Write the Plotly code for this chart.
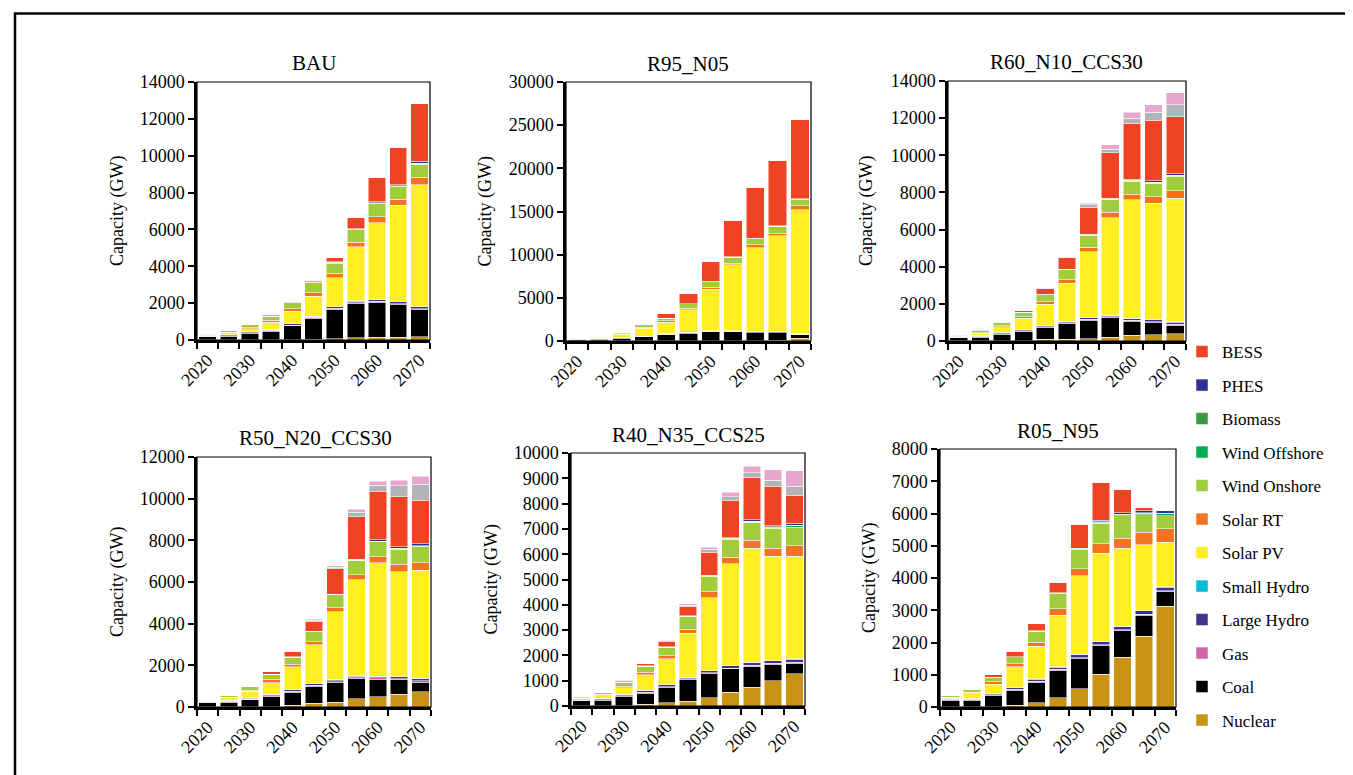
import plotly.graph_objects as go

# ---------------- data ----------------
years = [2020, 2025, 2030, 2035, 2040, 2045, 2050, 2055, 2060, 2065, 2070]
tick_years = [2020, 2030, 2040, 2050, 2060, 2070]

series_names = ["Nuclear", "Coal", "Gas", "Large Hydro", "Small Hydro", "Solar PV",
                "Solar RT", "Wind Onshore", "Wind Offshore", "Biomass", "PHES", "BESS",
                "Coal CCS", "Gas CCS"]
hidden_in_legend = ["Coal CCS", "Gas CCS"]

titles = ["BAU", "R95_N05", "R60_N10_CCS30", "R50_N20_CCS30", "R40_N35_CCS25", "R05_N95"]
y_title = "Capacity (GW)"
y_max = [14000, 30000, 14000, 12000, 10000, 8000]
y_step = [2000, 5000, 2000, 2000, 1000, 1000]

BAU = {
    "Nuclear":       [5, 5, 10, 15, 25, 40, 80, 120, 150, 160, 170],
    "Coal":          [180, 200, 350, 470, 740, 1140, 1600, 1870, 1910, 1775, 1490],
    "Gas":           [25, 30, 35, 40, 45, 45, 45, 45, 45, 45, 45],
    "Large Hydro":   [45, 50, 55, 60, 65, 70, 75, 80, 85, 90, 95],
    "Small Hydro":   [5, 5, 6, 6, 7, 7, 8, 8, 8, 9, 9],
    "Solar PV":      [35, 120, 160, 380, 680, 1085, 1575, 2940, 4167, 5227, 6618],
    "Solar RT":      [5, 15, 50, 110, 145, 180, 235, 253, 325, 325, 400],
    "Wind Onshore":  [40, 80, 160, 215, 310, 540, 560, 660, 730, 700, 720],
    "Wind Offshore": [0, 0, 0, 0, 5, 10, 15, 20, 25, 30, 40],
    "Biomass":       [10, 10, 10, 10, 10, 15, 15, 15, 15, 15, 15],
    "PHES":          [5, 5, 5, 10, 15, 20, 25, 30, 45, 60, 100],
    "BESS":          [0, 5, 10, 45, 55, 90, 235, 630, 1340, 2025, 3110],
    "Coal CCS":      [0, 0, 0, 0, 0, 0, 0, 0, 0, 0, 0],
    "Gas CCS":       [0, 0, 0, 0, 0, 0, 0, 0, 0, 0, 0],
}

R95_N05 = {
    "Nuclear":       [5, 5, 5, 5, 5, 5, 10, 20, 50, 100, 300],
    "Coal":          [180, 220, 330, 470, 750, 920, 1080, 1080, 900, 850, 460],
    "Gas":           [25, 25, 25, 25, 25, 25, 25, 25, 25, 25, 25],
    "Large Hydro":   [45, 50, 55, 60, 65, 70, 75, 80, 85, 90, 95],
    "Small Hydro":   [5, 5, 6, 6, 7, 7, 8, 8, 8, 9, 9],
    "Solar PV":      [40, 150, 350, 900, 1313, 2568, 4812, 7600, 9755, 11140, 14300],
    "Solar RT":      [5, 20, 60, 100, 155, 195, 195, 195, 310, 270, 500],
    "Wind Onshore":  [40, 90, 180, 200, 310, 500, 650, 700, 700, 770, 660],
    "Wind Offshore": [0, 0, 0, 0, 5, 10, 15, 15, 20, 25, 40],
    "Biomass":       [10, 10, 10, 10, 10, 15, 15, 15, 15, 15, 15],
    "PHES":          [5, 5, 5, 10, 15, 20, 20, 20, 45, 40, 65],
    "BESS":          [0, 10, 30, 150, 550, 1120, 2320, 4210, 5876, 7615, 9160],
    "Coal CCS":      [0, 0, 0, 0, 0, 0, 0, 0, 0, 0, 0],
    "Gas CCS":       [0, 0, 0, 0, 0, 0, 0, 0, 0, 0, 0],
}

R60_N10_CCS30 = {
    "Nuclear":       [5, 5, 10, 20, 90, 90, 130, 215, 300, 340, 395],
    "Coal":          [180, 210, 360, 480, 620, 850, 1000, 1030, 770, 650, 415],
    "Gas":           [25, 30, 30, 40, 45, 50, 50, 55, 55, 60, 90],
    "Large Hydro":   [45, 50, 55, 60, 65, 70, 75, 80, 85, 90, 115],
    "Small Hydro":   [5, 5, 6, 6, 7, 7, 8, 8, 8, 9, 10],
    "Solar PV":      [35, 130, 300, 620, 1150, 2040, 3550, 5260, 6390, 6270, 6670],
    "Solar RT":      [5, 20, 60, 90, 145, 180, 235, 290, 306, 360, 400],
    "Wind Onshore":  [40, 90, 170, 220, 360, 540, 630, 670, 685, 720, 775],
    "Wind Offshore": [0, 0, 0, 0, 10, 15, 20, 25, 40, 45, 50],
    "Biomass":       [10, 10, 10, 10, 10, 10, 15, 15, 15, 15, 15],
    "PHES":          [5, 5, 5, 10, 15, 20, 25, 30, 50, 60, 65],
    "BESS":          [0, 10, 30, 90, 300, 600, 1450, 2470, 3010, 3280, 3081],
    "Coal CCS":      [0, 0, 0, 5, 5, 15, 140, 180, 270, 415, 630],
    "Gas CCS":       [0, 5, 10, 10, 15, 20, 90, 235, 325, 415, 665],
}

R50_N20_CCS30 = {
    "Nuclear":       [5, 5, 10, 20, 80, 175, 240, 400, 500, 610, 735],
    "Coal":          [200, 230, 330, 480, 640, 830, 960, 960, 830, 690, 465],
    "Gas":           [25, 30, 35, 40, 45, 50, 50, 45, 65, 60, 70],
    "Large Hydro":   [45, 50, 55, 65, 75, 75, 75, 80, 85, 90, 95],
    "Small Hydro":   [5, 5, 6, 6, 7, 7, 8, 8, 8, 9, 9],
    "Solar PV":      [35, 140, 320, 560, 1090, 1840, 3250, 4610, 5440, 5025, 5200],
    "Solar RT":      [5, 20, 60, 128, 110, 145, 190, 240, 290, 370, 350],
    "Wind Onshore":  [40, 90, 150, 270, 340, 490, 620, 700, 720, 720, 770],
    "Wind Offshore": [0, 0, 0, 0, 0, 5, 10, 10, 15, 20, 25],
    "Biomass":       [10, 10, 10, 10, 10, 10, 10, 10, 15, 15, 15],
    "PHES":          [5, 5, 5, 5, 5, 5, 10, 20, 70, 90, 100],
    "BESS":          [0, 10, 20, 100, 256, 480, 1216, 2050, 2290, 2400, 2080],
    "Coal CCS":      [0, 0, 0, 0, 10, 50, 80, 225, 305, 510, 770],
    "Gas CCS":       [0, 5, 5, 5, 15, 60, 65, 130, 210, 270, 400],
}

R40_N35_CCS25 = {
    "Nuclear":       [5, 5, 10, 65, 120, 185, 330, 550, 746, 995, 1270],
    "Coal":          [200, 215, 370, 445, 630, 865, 940, 916, 811, 641, 419],
    "Gas":           [25, 30, 30, 30, 20, 25, 35, 35, 50, 45, 50],
    "Large Hydro":   [45, 50, 55, 68, 63, 60, 87, 87, 110, 103, 110],
    "Small Hydro":   [5, 5, 6, 7, 7, 7, 8, 8, 10, 9, 10],
    "Solar PV":      [35, 130, 260, 615, 1020, 1730, 2880, 4030, 4515, 4123, 4058],
    "Solar RT":      [5, 20, 40, 105, 130, 170, 235, 262, 300, 327, 419],
    "Wind Onshore":  [40, 80, 170, 235, 330, 500, 615, 707, 720, 785, 733],
    "Wind Offshore": [0, 0, 0, 0, 0, 5, 15, 20, 35, 35, 60],
    "Biomass":       [10, 10, 10, 10, 10, 10, 10, 10, 15, 15, 20],
    "PHES":          [5, 5, 5, 5, 10, 15, 15, 20, 42, 42, 77],
    "BESS":          [0, 5, 50, 80, 220, 370, 915, 1466, 1675, 1570, 1113],
    "Coal CCS":      [0, 0, 0, 0, 10, 40, 118, 157, 183, 236, 353],
    "Gas CCS":       [0, 5, 10, 5, 30, 50, 80, 183, 262, 419, 602],
}

R05_N95 = {
    "Nuclear":       [5, 5, 10, 60, 135, 280, 567, 1010, 1546, 2196, 3124],
    "Coal":          [210, 210, 340, 465, 640, 865, 938, 897, 825, 650, 443],
    "Gas":           [20, 25, 25, 20, 25, 25, 30, 30, 30, 30, 35],
    "Large Hydro":   [25, 30, 40, 45, 68, 70, 86, 84, 96, 105, 110],
    "Small Hydro":   [5, 5, 5, 5, 7, 8, 8, 20, 8, 9, 10],
    "Solar PV":      [35, 160, 290, 650, 1010, 1600, 2443, 2732, 2423, 2041, 1392],
    "Solar RT":      [5, 20, 70, 100, 125, 196, 216, 289, 309, 381, 412],
    "Wind Onshore":  [40, 80, 135, 206, 340, 464, 588, 640, 690, 546, 412],
    "Wind Offshore": [0, 0, 0, 0, 0, 10, 15, 25, 35, 45, 50],
    "Biomass":       [10, 10, 5, 5, 5, 5, 10, 15, 15, 20, 20],
    "PHES":          [5, 5, 5, 5, 10, 15, 25, 42, 53, 69, 85],
    "BESS":          [0, 5, 80, 145, 216, 330, 742, 1186, 701, 93, 0],
    "Coal CCS":      [0, 0, 0, 0, 0, 0, 0, 0, 0, 0, 0],
    "Gas CCS":       [0, 0, 0, 0, 0, 0, 0, 0, 0, 0, 0],
}

scenarios = [BAU, R95_N05, R60_N10_CCS30, R50_N20_CCS30, R40_N35_CCS25, R05_N95]

# ---------------- style ----------------
colors = {
    "Nuclear": "#C99416", "Coal": "#000000", "Gas": "#D064A8", "Large Hydro": "#3C3391",
    "Small Hydro": "#00BCD4", "Solar PV": "#FFEE22", "Solar RT": "#F47322",
    "Wind Onshore": "#A2CD3A", "Wind Offshore": "#00B050", "Biomass": "#3A9A3F",
    "PHES": "#2E3192", "BESS": "#EE4423", "Coal CCS": "#B1B3B6", "Gas CCS": "#E6A6CD",
}

W, H = 1353, 775
FONT = "Liberation Serif, Times New Roman, DejaVu Serif, serif"
# plot boxes in pixels: (left, right, top, bottom)
boxes = [(189, 422, 74, 332), (558, 803, 74, 333), (940, 1178, 73, 333),
         (189, 423, 449, 699), (563, 797, 445, 698), (932, 1168, 441, 699)]
title_pos = [(306, 55), (680, 56), (1058, 54), (307, 430), (680, 427), (1050, 423)]
ytitle_offset = [80, 81, 82, 80, 80, 71]

fig = go.Figure()
layout = {}
shapes = []
annotations = []
n_legend = len(series_names) - len(hidden_in_legend)

for i, (scen, box) in enumerate(zip(scenarios, boxes)):
    n = i + 1
    xa = "x" if n == 1 else f"x{n}"
    ya = "y" if n == 1 else f"y{n}"
    for k, name in enumerate(series_names):
        fig.add_trace(go.Bar(
            x=years, y=scen[name], name=name,
            marker=dict(color=colors[name], line=dict(color="rgba(255,255,255,0.85)", width=0.6)),
            xaxis=xa, yaxis=ya, legendgroup=name, legendrank=1000 + (n_legend - k),
            showlegend=(i == 0 and name not in hidden_in_legend),
        ))
    l, r, t, b = box
    layout[f"xaxis{'' if n == 1 else n}"] = dict(
        domain=[l / W, r / W], anchor=ya, range=[2017.5, 2072.5],
        tickmode="array", tickvals=tick_years, ticktext=[str(v) for v in tick_years],
        tickangle=-45, ticks="", showgrid=False, zeroline=False,
        showline=True, linecolor="black", linewidth=2.5,
        tickfont=dict(family=FONT, size=18, color="black"),
        minor=dict(tickmode="linear", tick0=2017.5, dtick=5, ticks="outside",
                   ticklen=6, tickwidth=2, tickcolor="black", showgrid=False),
        automargin=False, fixedrange=True,
    )
    layout[f"yaxis{'' if n == 1 else n}"] = dict(
        domain=[1 - b / H, 1 - t / H], anchor=xa, range=[0, y_max[i]],
        dtick=y_step[i], tick0=0, tickformat="d", ticks="outside", ticklen=6,
        tickwidth=2, tickcolor="black", showgrid=False, zeroline=False,
        showline=True, linecolor="black", linewidth=2.5,
        tickfont=dict(family=FONT, size=18, color="black"),
        automargin=False, fixedrange=True,
    )
    shapes.append(dict(type="rect", xref=f"{xa} domain", yref=f"{ya} domain",
                       x0=0, x1=1, y0=0, y1=1, line=dict(color="black", width=1.2), layer="above"))
    tx, ty = title_pos[i]
    annotations.append(dict(text=titles[i], x=tx / W, y=1 - ty / H, xref="paper", yref="paper",
                            xanchor="center", yanchor="middle", showarrow=False,
                            font=dict(family=FONT, size=21, color="black")))
    annotations.append(dict(text=y_title, x=(l - ytitle_offset[i]) / W, y=1 - (t + b) / 2 / H,
                            xref="paper", yref="paper", xanchor="center", yanchor="middle",
                            textangle=-90, showarrow=False,
                            font=dict(family=FONT, size=18, color="black")))

# outer frame (left, top, right; open at bottom)
shapes.append(dict(type="path", xref="paper", yref="paper",
                   path=f"M {7/W} 0 L {7/W} {1-5.5/H} L {1350/W} {1-5.5/H} L {1350/W} 0",
                   line=dict(color="black", width=2.5)))

fig.update_layout(
    **layout,
    barmode="stack", bargap=0.18,
    width=W, height=H, margin=dict(l=0, r=0, t=0, b=0),
    paper_bgcolor="white", plot_bgcolor="white",
    font=dict(family=FONT, color="black"),
    shapes=shapes, annotations=annotations,
    legend=dict(x=1174 / W, y=1 - 326 / H, xanchor="left", yanchor="top",
                traceorder="grouped", tracegroupgap=8.4,
                font=dict(family=FONT, size=17, color="black"),
                bgcolor="rgba(0,0,0,0)", itemwidth=30),
)

fig.write_html("out.html")
